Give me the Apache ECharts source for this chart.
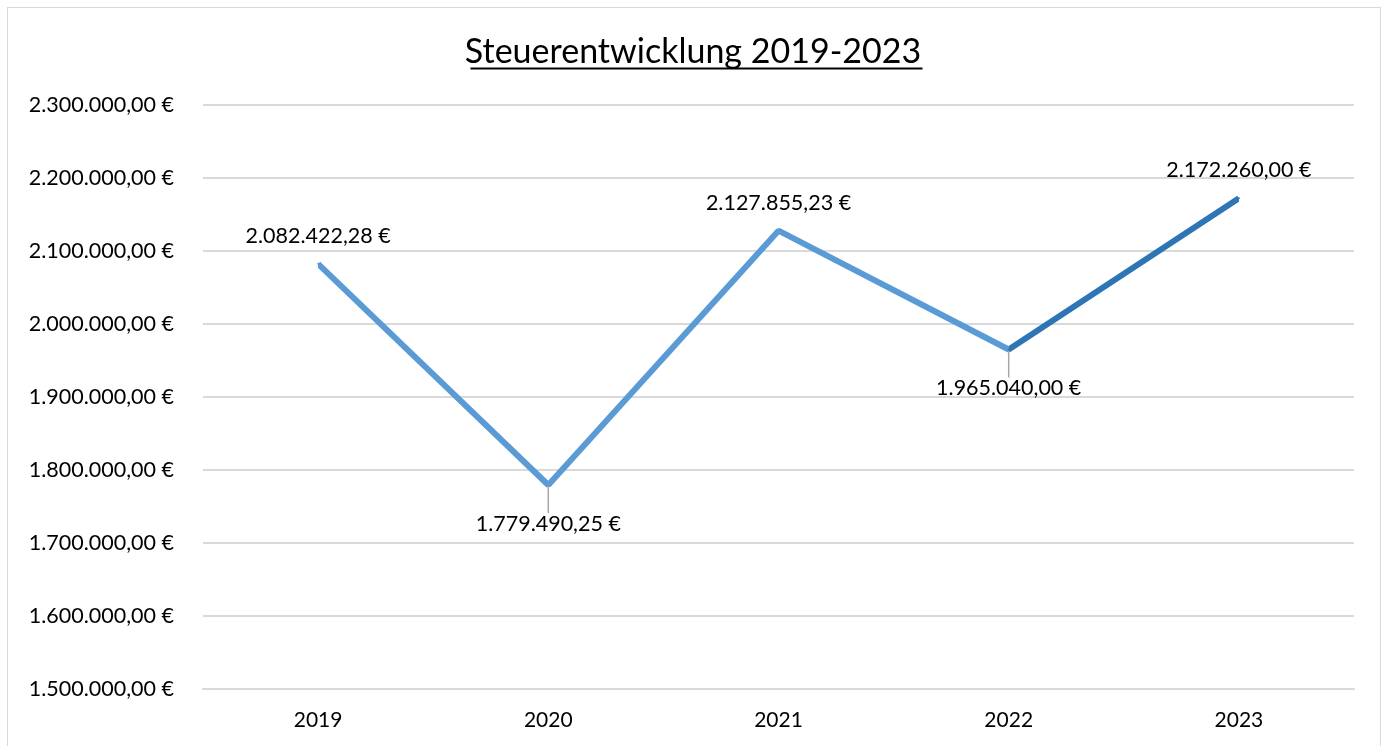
<!DOCTYPE html>
<html lang="de">
  <head>
    <meta charset="UTF-8" />
    <title>Steuerentwicklung 2019-2023</title>
    <script src="https://cdn.jsdelivr.net/npm/echarts/dist/echarts.min.js"></script>
    <style>
      html, body { margin: 0; padding: 0; background: #fff; }
      #chart { width: 1386px; height: 746px; }
      #frame {
        position: absolute; left: 7px; top: 7px; width: 1374px; height: 760px;
        border: 1px solid #d9d9d9; box-sizing: border-box; pointer-events: none;
      }
    </style>
  </head>
  <body>
    <div id="chart"></div>
    <div id="frame"></div>
    <script>
      // Daten
      const years = ["2019", "2020", "2021", "2022", "2023"];
      const steuern = [2082422.28, 1779490.25, 2127855.23, 1965040.0, 2172260.0];
      const labelsBelow = [1, 3]; // Beschriftung unterhalb mit Führungslinie

      const fmt = (v) =>
        v.toLocaleString("de-DE", { minimumFractionDigits: 2, maximumFractionDigits: 2 }) + " €";

      const font = "Lato, 'Open Sans', sans-serif";

      var chart = echarts.init(document.getElementById("chart"));
      var option = {
        backgroundColor: "#fff",
        animation: false,
        title: {
          text: "Steuerentwicklung 2019-2023",
          left: "center",
          top: 30,
          textStyle: { fontFamily: font, fontSize: 34, fontWeight: "normal", color: "#000" },
        },
        graphic: [
          {
            type: "line",
            left: 468,
            top: 66,
            shape: { x1: 0, y1: 0, x2: 452, y2: 0 },
            style: { stroke: "#000", lineWidth: 2 },
          },
        ],
        grid: { left: 203, right: 32, top: 105, bottom: 57 },
        xAxis: {
          type: "category",
          data: years,
          axisLine: { lineStyle: { color: "#d9d9d9", width: 2 } },
          axisTick: { show: false },
          axisLabel: { color: "#000", fontFamily: font, fontSize: 21, margin: 21 },
        },
        yAxis: {
          type: "value",
          min: 1500000,
          max: 2300000,
          interval: 100000,
          axisLabel: { color: "#000", fontFamily: font, fontSize: 21.5, margin: 29, formatter: fmt },
          splitLine: { lineStyle: { color: "#d9d9d9", width: 2 } },
        },
        visualMap: {
          show: false,
          dimension: 0,
          pieces: [
            { gte: 0, lt: 3, color: "#5b9bd5" },
            { gte: 3, lte: 4, color: "#2e75b6" },
          ],
        },
        series: [
          {
            type: "line",
            data: steuern.map((v, i) => ({
              value: v,
              label: labelsBelow.includes(i)
                ? { position: "bottom", distance: 26 }
                : { position: "top", distance: 16 },
              labelLine: { show: labelsBelow.includes(i) },
            })),
            symbol: "circle",
            symbolSize: 2,
            lineStyle: { width: 6 },
            label: {
              show: true,
              opacity: 1,
              color: "#000",
              fontFamily: font,
              fontSize: 21.5,
              formatter: (p) => fmt(p.value),
            },
            labelLayout: (p) => (labelsBelow.includes(p.dataIndex) ? { dy: 1 } : {}),
            labelLine: { lineStyle: { color: "#a6a6a6", width: 1.5 } },
          },
        ],
      };
      chart.setOption(option);
    </script>
  </body>
</html>
